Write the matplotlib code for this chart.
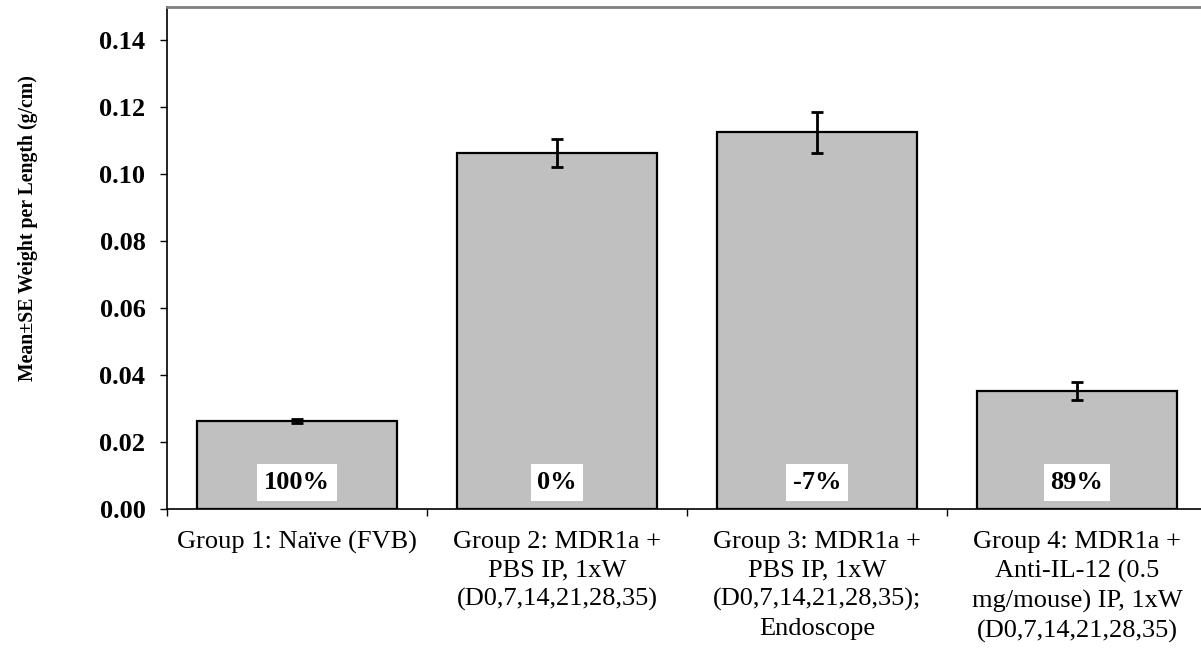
import matplotlib
matplotlib.use("Agg")
import matplotlib.pyplot as plt
import numpy as np

groups = [
    "Group 1: Naïve (FVB)",
    "Group 2: MDR1a +\nPBS IP, 1xW\n(D0,7,14,21,28,35)",
    "Group 3: MDR1a +\nPBS IP, 1xW\n(D0,7,14,21,28,35);\nEndoscope",
    "Group 4: MDR1a +\nAnti-IL-12 (0.5\nmg/mouse) IP, 1xW\n(D0,7,14,21,28,35)",
]
means = [0.0263, 0.1065, 0.1125, 0.0353]
se = [0.0005, 0.0042, 0.0062, 0.0027]
pct_labels = ["100%", "0%", "-7%", "89%"]
yticks = [0.00, 0.02, 0.04, 0.06, 0.08, 0.10, 0.12, 0.14]

plt.rcParams["font.family"] = ["Liberation Serif", "DejaVu Serif"]

W, H = 1201, 649
fig = plt.figure(figsize=(W / 100, H / 100), dpi=100)
# plot area runs slightly past the right edge of the canvas
ax = fig.add_axes([167 / W, 1 - 509 / H, 1040 / W, 502 / H])

x = np.arange(len(groups))
ax.bar(x, means, width=0.77, color="#C0C0C0", edgecolor="black", linewidth=1.6, zorder=2)
ax.errorbar(x, means, yerr=se, fmt="none", ecolor="black", elinewidth=2,
            capsize=4.5, capthick=2, zorder=3)

for xi, lab in zip(x, pct_labels):
    ax.text(xi, 0.0079, lab, ha="center", va="center", fontsize=19, fontweight="bold",
            zorder=4,
            bbox=dict(boxstyle="square,pad=0.25", facecolor="white", edgecolor="none"))

ax.set_xlim(-0.5, len(groups) - 0.5)
ax.set_ylim(0, 0.15)
ax.set_yticks(yticks)
ax.set_yticklabels([f"{v:.2f}" for v in yticks], fontsize=19, fontweight="bold")
ax.tick_params(axis="y", direction="out", length=5, width=1, pad=10.5)

ax.set_xticks(np.arange(len(groups) + 1) - 0.5)
ax.set_xticklabels([])
ax.tick_params(axis="x", which="major", direction="out", length=5, width=1)
ax.set_xticks(x, minor=True)
ax.set_xticklabels(groups, minor=True, fontsize=19, linespacing=1.38)
ax.tick_params(axis="x", which="minor", length=0, pad=16)

fig.text(28 / W, 1 - 228 / H, "Mean±SE Weight per Length (g/cm)", rotation=90,
         ha="center", va="center", fontsize=14.2, fontweight="bold")

ax.spines["left"].set_color("black")
ax.spines["bottom"].set_color("black")
ax.spines["left"].set_linewidth(1.2)
ax.spines["bottom"].set_linewidth(1.2)
ax.spines["top"].set_color("#808080")
ax.spines["top"].set_linewidth(2)
ax.spines["right"].set_visible(False)

fig.savefig("out.png", dpi=100)
